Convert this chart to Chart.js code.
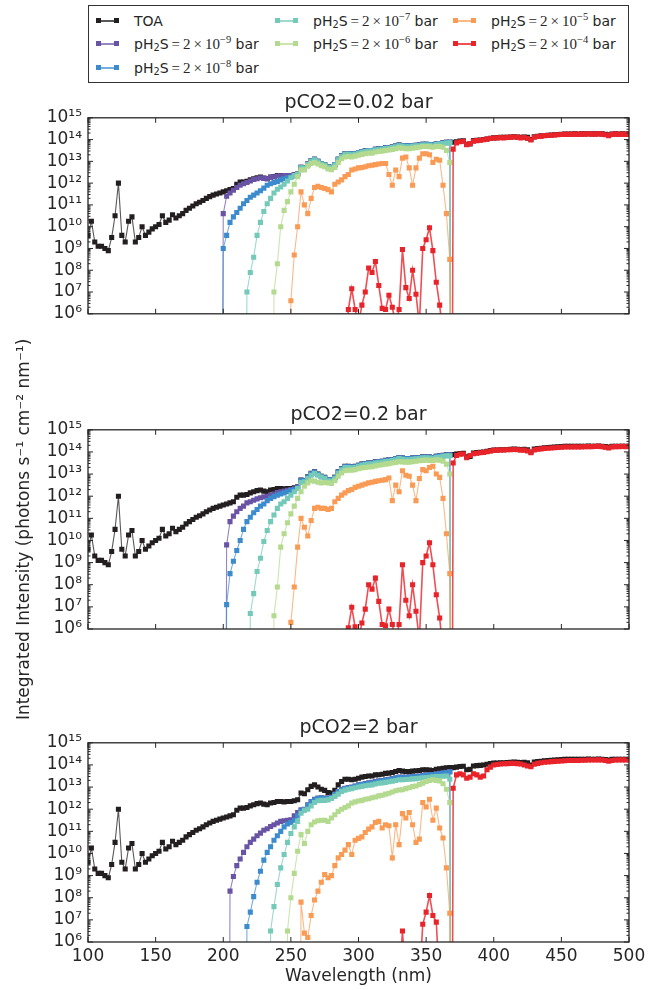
<!DOCTYPE html>
<html>
<head>
<meta charset="utf-8">
<title>Integrated intensity vs wavelength</title>
<script src="https://cdn.jsdelivr.net/npm/chart.js@4.4.1/dist/chart.umd.min.js"></script>
<style>
  body { margin: 0; background: #fff; width: 655px; height: 990px; position: relative; overflow: hidden; font-family: "DejaVu Sans", sans-serif; }
  canvas { position: absolute; left: 0; }
  #legend { position: absolute; left: 88px; top: 5px; width: 541px; height: 78px; box-sizing: border-box; border: 1px solid #333; background: #fff; font-size: 14px; color: #262626; }
  .item { position: absolute; height: 20px; line-height: 20px; white-space: nowrap; }
  .swatch { position: absolute; left: 0; top: 9px; width: 23px; height: 2px; }
  .swatch::before, .swatch::after { content: ''; position: absolute; top: -2px; width: 5px; height: 5px; background: var(--c); }
  .swatch::before { left: 0; }
  .swatch::after { right: 0; }
  .label { position: absolute; left: 38px; top: 0; }
  .m { font-family: "Liberation Serif", serif; font-size: 15px; }
  sub, sup { font-size: 70%; line-height: 0; }
  sub { vertical-align: -0.25em; }
  sup { vertical-align: 0.55em; }
</style>
</head>
<body>
<div id="legend"></div>
<canvas id="c1" width="655" height="240" style="top:90px"></canvas>
<canvas id="c2" width="655" height="395" style="top:335px"></canvas>
<canvas id="c3" width="655" height="275" style="top:715px"></canvas>
<script>
// wavelength grid step (nm); every series starts at its own wavelength
const step = 2.5;

const titles = ['pCO2=0.02 bar', 'pCO2=0.2 bar', 'pCO2=2 bar'];
const h2sExponents = [-9, -8, -7, -6, -5, -4];
const seriesColors = ['#231f20', '#6853a4', '#3b8bcd', '#74c9b8', '#b3da8f', '#f99b55', '#e8232a'];
const lineColors = ['rgba(35,31,32,0.75)', 'rgba(104,83,164,0.7)', 'rgba(59,139,205,0.7)', 'rgba(116,201,184,0.7)',
  'rgba(179,218,143,0.7)', 'rgba(249,155,85,0.7)', 'rgba(232,35,42,0.8)'];
const yTicks = [1e6, 1e7, 1e8, 1e9, 1e10, 1e11, 1e12, 1e13, 1e14, 1e15];

// all intensities are log10(photons s-1 cm-2 nm-1); -30 or small numbers = below the plotted range
const toaStart = 100;
const toa = [
  9.6, 10.25, 9.3, 9.1, 9.1, 9.0, 8.9, 9.5, 10.5, 12.0,
  9.6, 9.3, 10.25, 10.45, 9.3, 9.5, 10.0, 9.6, 9.75, 9.9,
  10.0, 10.1, 10.5, 10.2, 10.3, 10.55, 10.4, 10.5, 10.6, 10.75,
  10.85, 10.95, 11.05, 11.12, 11.2, 11.3, 11.38, 11.45, 11.5, 11.55,
  11.6, 11.65, 11.7, 11.75, 11.95, 12.05, 12.05, 12.08, 12.15, 12.2,
  12.25, 12.28, 12.23, 12.2, 12.28, 12.3, 12.35, 12.35, 12.33, 12.35,
  12.35, 12.38, 12.43, 12.73, 12.7, 12.88, 13.03, 13.1, 13.0, 12.9,
  12.85, 12.75, 12.73, 12.85, 13.1, 13.25, 13.35, 13.35, 13.33, 13.35,
  13.4, 13.45, 13.48, 13.5, 13.5, 13.55, 13.56, 13.58, 13.62, 13.63,
  13.66, 13.7, 13.75, 13.72, 13.7, 13.7, 13.72, 13.74, 13.75, 13.78,
  13.78, 13.77, 13.75, 13.8, 13.82, 13.85, 13.87, 13.88, 13.88, 13.9,
  13.93, 13.94, 13.78, 13.8, 13.95, 13.97, 13.98, 14.0, 14.03, 14.06,
  14.08, 14.09, 14.1, 14.1, 14.11, 14.12, 14.13, 14.12, 14.11, 14.12,
  14.1, 14.0, 14.13, 14.15, 14.17, 14.19, 14.2, 14.21, 14.22, 14.23,
  14.24, 14.25, 14.25, 14.25, 14.26, 14.25, 14.26, 14.26, 14.27, 14.26,
  14.26, 14.27, 14.26, 14.24, 14.22, 14.25, 14.26, 14.25, 14.26, 14.25,
  14.26
];

// pCO2 = 0.02 bar
const lowStarts = [197.5, 197.5, 215, 235, 247.5, 287.5];
const lowS9 = [
  -30, 10.6, 11.4, 11.55, 11.67, 11.8, 11.9, 11.97, 12.03, 12.1,
  12.17, 12.2, 12.25, 12.22, 12.2, 12.27, 12.29, 12.33, 12.34, 12.33,
  12.35, 12.35, 12.38, 12.43, 12.73, 12.7, 12.88, 13.03, 13.1, 13.0,
  12.9, 12.85, 12.75, 12.73, 12.85, 13.1, 13.25, 13.35, 13.35, 13.33,
  13.35, 13.4, 13.45, 13.48, 13.5, 13.5, 13.55, 13.56, 13.58, 13.62,
  13.63, 13.66, 13.7, 13.75, 13.72, 13.7, 13.7, 13.72, 13.74, 13.75,
  13.78, 13.78, 13.77, 13.75, 13.8, 13.82, 13.85, 13.87, 13.88, -30
];
const lowS8 = [
  -30, 9.0, 9.6, 10.2, 10.45, 10.65, 10.85, 11.05, 11.2, 11.35,
  11.45, 11.55, 11.65, 11.77, 11.9, 11.97, 12.03, 12.08, 12.15, 12.2,
  12.25, 12.28, 12.33, 12.4, 12.72, 12.7, 12.87, 13.02, 13.09, 12.99,
  12.9, 12.84, 12.75, 12.72, 12.85, 13.09, 13.24, 13.34, 13.34, 13.33,
  13.34, 13.4, 13.44, 13.47, 13.5, 13.5, 13.54, 13.56, 13.58, 13.61,
  13.63, 13.65, 13.7, 13.74, 13.72, 13.7, 13.7, 13.72, 13.73, 13.75,
  13.77, 13.78, 13.77, 13.75, 13.8, 13.82, 13.84, 13.86, 13.87, -30
];
const lowS7 = [
  -30, 7.0, 7.9, 8.6, 9.6, 10.2, 10.7, 11.05, 11.3, 11.55,
  11.72, 11.82, 11.95, 12.1, 12.25, 12.35, 12.42, 12.7, 12.68, 12.85,
  13.0, 13.07, 12.98, 12.88, 12.83, 12.73, 12.7, 12.83, 13.07, 13.22,
  13.32, 13.32, 13.3, 13.32, 13.37, 13.42, 13.45, 13.47, 13.47, 13.52,
  13.53, 13.55, 13.59, 13.6, 13.63, 13.67, 13.72, 13.69, 13.67, 13.67,
  13.69, 13.71, 13.72, 13.75, 13.75, 13.74, 13.72, 13.77, 13.79, 13.82,
  13.84, 13.85, -30
];
const lowS6 = [
  -30, 7.0, 8.3, 10.0, 10.75, 11.15, 11.6, 11.95, 12.3, 12.6,
  12.6, 12.78, 12.9, 12.95, 12.88, 12.8, 12.75, 12.65, 12.62, 12.72,
  12.95, 13.12, 13.2, 13.22, 13.2, 13.24, 13.28, 13.32, 13.35, 13.37,
  13.38, 13.43, 13.45, 13.47, 13.5, 13.52, 13.55, 13.58, 13.62, 13.6,
  13.58, 13.58, 13.6, 13.63, 13.65, 13.68, 13.68, 13.67, 13.65, 13.68,
  13.68, 13.65, 13.5, 12.95, -30
];
const lowS5 = [
  -30, 6.6, 8.7, 10.0, 11.6, 11.0, 10.6, 11.3, 11.8, 11.85,
  11.8, 11.75, 11.7, 11.6, 11.95, 12.05, 12.15, 12.3, 12.4, 12.6,
  12.65, 12.7, 12.72, 12.75, 12.8, 12.82, 12.85, 12.88, 12.9, 12.9,
  12.4, 11.9, 12.6, 12.3, 13.15, 13.2, 12.7, 11.9, 12.7, 13.15,
  13.35, 13.35, 13.3, 12.95, 13.1, 13.05, 11.9, 10.6, 8.5, -30
];
const lowS4 = [
  3, 4, 6.2, 7.15, 6.2, 5.5, 6.4, 7.0, 8.1, 7.9,
  8.4, 7.3, 6.25, 6.2, 6.85, 6.3, 5.5, 6.2, 8.95, 7.2,
  6.7, 8.0, 6.9, 5.5, 9.0, 9.4, 9.95, 8.9, 7.45, 6.4,
  5, 4, -30, 13.56, 13.85, 13.9, 13.92, 13.76, 13.82, 13.93,
  13.95, 13.97, 13.99, 14.02, 14.05, 14.07, 14.08, 14.09, 14.08, 14.1,
  14.11, 14.12, 14.1, 14.08, 14.1, 14.05, 13.98, 14.11, 14.14, 14.16,
  14.18, 14.19, 14.2, 14.21, 14.22, 14.23, 14.24, 14.24, 14.24, 14.25,
  14.24, 14.25, 14.25, 14.26, 14.25, 14.25, 14.26, 14.25, 14.22, 14.18,
  14.24, 14.25, 14.24, 14.25, 14.24, 14.25
];

// pCO2 = 0.2 bar
const midStarts = [200, 200, 217.5, 235, 247.5, 287.5];
const midS9 = [
  -30, 9.8, 10.85, 11.1, 11.3, 11.45, 11.55, 11.7, 11.75, 11.82,
  11.88, 11.93, 11.97, 12.0, 12.05, 12.1, 12.16, 12.2, 12.23, 12.27,
  12.3, 12.34, 12.41, 12.72, 12.7, 12.87, 13.02, 13.09, 12.99, 12.9,
  12.84, 12.75, 12.72, 12.85, 13.09, 13.24, 13.34, 13.34, 13.33, 13.34,
  13.4, 13.44, 13.47, 13.5, 13.5, 13.54, 13.56, 13.58, 13.61, 13.63,
  13.65, 13.7, 13.74, 13.72, 13.7, 13.7, 13.72, 13.73, 13.75, 13.77,
  13.78, 13.77, 13.75, 13.8, 13.82, 13.84, 13.86, 13.87, -30
];
const midS8 = [
  -30, 7.1, 8.5, 9.06, 9.55, 10.0, 10.5, 10.85, 11.05, 11.25,
  11.4, 11.55, 11.65, 11.8, 11.9, 11.98, 12.05, 12.1, 12.15, 12.2,
  12.25, 12.3, 12.38, 12.71, 12.69, 12.86, 13.01, 13.08, 12.98, 12.89,
  12.83, 12.74, 12.71, 12.84, 13.08, 13.23, 13.33, 13.33, 13.32, 13.33,
  13.39, 13.43, 13.46, 13.49, 13.49, 13.53, 13.55, 13.57, 13.6, 13.62,
  13.64, 13.69, 13.73, 13.71, 13.69, 13.69, 13.71, 13.72, 13.74, 13.76,
  13.77, 13.76, 13.74, 13.79, 13.81, 13.83, 13.85, 13.86, -30
];
const midS7 = [
  -30, 6.7, 7.6, 8.6, 9.2, 9.95, 10.45, 10.85, 11.15, 11.45,
  11.65, 11.75, 11.9, 12.05, 12.2, 12.35, 12.62, 12.65, 12.8, 12.95,
  13.02, 12.95, 12.86, 12.8, 12.7, 12.68, 12.8, 13.04, 13.19, 13.29,
  13.3, 13.28, 13.3, 13.35, 13.4, 13.43, 13.45, 13.45, 13.5, 13.51,
  13.53, 13.57, 13.58, 13.61, 13.65, 13.7, 13.67, 13.65, 13.65, 13.67,
  13.69, 13.7, 13.73, 13.73, 13.72, 13.7, 13.75, 13.77, 13.8, 13.82,
  13.83, -30
];
const midS6 = [
  -30, 6.6, 7.9, 9.7, 10.3, 10.8, 11.2, 11.55, 11.9, 12.2,
  12.45, 12.6, 12.7, 12.68, 12.63, 12.6, 12.62, 12.6, 12.58, 12.7,
  12.9, 13.05, 13.15, 13.17, 13.17, 13.2, 13.24, 13.28, 13.3, 13.32,
  13.33, 13.37, 13.4, 13.42, 13.45, 13.47, 13.5, 13.53, 13.56, 13.55,
  13.54, 13.54, 13.56, 13.58, 13.6, 13.62, 13.63, 13.62, 13.62, 13.64,
  13.63, 13.58, 13.45, 13.0, -30
];
const midS5 = [
  -30, 6.3, 7.9, 9.7, 11.0, 10.6, 10.2, 10.9, 11.45, 11.5,
  11.45, 11.45, 11.4, 11.45, 11.75, 11.9, 12.05, 12.15, 12.25, 12.3,
  12.4, 12.45, 12.5, 12.55, 12.6, 12.63, 12.67, 12.7, 12.72, 12.75,
  12.82, 11.8, 12.5, 12.2, 13.15, 12.95, 12.9, 12.5, 11.8, 12.8,
  13.2, 13.15, 13.3, 13.35, 13.0, 12.85, 11.9, 10.3, 8.5, -30
];
const midS4 = [
  3, 4, 6.05, 6.98, 6.1, 5.5, 6.27, 6.9, 8.0, 7.8,
  8.3, 7.25, 6.2, 6.15, 6.9, 6.2, 5.5, 6.2, 8.9, 7.3,
  6.6, 8.0, 6.8, 5.5, 9.0, 9.3, 9.9, 8.9, 7.55, 6.5,
  5, 4, -30, 13.5, 13.84, 13.9, 13.91, 13.74, 13.84, 13.92,
  13.94, 13.96, 13.98, 14.01, 14.04, 14.07, 14.08, 14.09, 14.09, 14.1,
  14.1, 14.11, 14.1, 14.08, 14.08, 14.04, 13.97, 14.09, 14.12, 14.14,
  14.16, 14.17, 14.18, 14.19, 14.2, 14.21, 14.22, 14.22, 14.22, 14.23,
  14.22, 14.23, 14.24, 14.24, 14.24, 14.25, 14.25, 14.24, 14.21, 14.18,
  14.23, 14.24, 14.24, 14.25, 14.24, 14.25
];

// pCO2 = 2 bar
const highStarts = [202.5, 215, 232.5, 245, 255, 327.5];
const highS9 = [
  -30, 8.3, 8.96, 9.45, 9.75, 10.05, 10.3, 10.5, 10.65, 10.8,
  10.92, 11.05, 11.12, 11.22, 11.3, 11.38, 11.45, 11.48, 11.5, 11.52,
  11.7, 11.85, 11.97, 12.0, 12.2, 12.35, 12.45, 12.5, 12.52, 12.5,
  12.5, 12.55, 12.68, 12.8, 12.9, 12.95, 12.98, 13.0, 13.05, 13.1,
  13.13, 13.16, 13.19, 13.21, 13.25, 13.28, 13.3, 13.33, 13.35, 13.38,
  13.42, 13.45, 13.45, 13.45, 13.46, 13.48, 13.49, 13.5, 13.53, 13.55,
  13.56, 13.57, 13.6, 13.62, 13.64, 13.67, 13.7, -30
];
const highS8 = [
  -30, 6.7, 7.35, 8.05, 8.7, 9.2, 9.7, 10.05, 10.3, 10.6,
  10.8, 11.0, 11.2, 11.33, 11.4, 11.5, 11.7, 11.92, 11.97, 12.18,
  12.33, 12.43, 12.48, 12.5, 12.48, 12.48, 12.53, 12.66, 12.78, 12.88,
  12.93, 12.96, 12.98, 13.03, 13.08, 13.11, 13.14, 13.17, 13.19, 13.23,
  13.26, 13.28, 13.31, 13.33, 13.36, 13.4, 13.43, 13.43, 13.43, 13.44,
  13.46, 13.47, 13.48, 13.51, 13.53, 13.54, 13.55, 13.58, 13.6, 13.62,
  13.65, 13.68, -30
];
const highS7 = [
  -30, 6.5, 7.6, 8.6, 9.35, 9.95, 10.5, 10.9, 11.2, 11.45,
  11.82, 11.95, 12.0, 12.15, 12.3, 12.38, 12.4, 12.4, 12.42, 12.48,
  12.58, 12.68, 12.8, 12.86, 12.9, 12.93, 12.97, 13.0, 13.03, 13.06,
  13.08, 13.1, 13.14, 13.17, 13.19, 13.21, 13.24, 13.27, 13.3, 13.33,
  13.33, 13.34, 13.35, 13.37, 13.38, 13.4, 13.42, 13.43, 13.44, 13.46,
  13.47, 13.48, 13.49, 13.5, 13.35, -30
];
const highS6 = [
  -30, 6.5, 8.0, 9.1, 10.1, 10.85, 10.45, 11.0, 11.3, 11.42,
  11.48, 11.5, 11.5, 11.45, 11.6, 11.75, 11.9, 12.0, 12.08, 12.15,
  12.28, 12.33, 12.37, 12.4, 12.45, 12.47, 12.52, 12.55, 12.6, 12.63,
  12.68, 12.72, 12.78, 12.83, 12.87, 12.88, 12.93, 12.97, 13.02, 13.05,
  13.12, 13.18, 13.25, 13.3, 13.33, 13.3, 13.28, 13.15, 12.9, 12.3,
  -30
];
const highS5 = [
  -30, 7.8, 6.4, 6.2, 7.2, 7.9, 8.3, 8.7, 9.05, 8.9,
  9.0, 9.45, 9.8, 9.95, 10.15, 10.4, 9.95, 10.6, 10.68, 10.75,
  10.95, 11.1, 11.2, 11.4, 11.45, 11.15, 11.3, 11.25, 9.8, 11.3,
  10.4, 11.8, 11.6, 11.85, 11.3, 10.5, 10.65, 12.3, 12.1, 12.45,
  11.5, 12.05, 11.15, 10.7, 9.35, 7.3, -30
];
const highS4 = [
  3, 4, 6.5, 4, 3, 3, 3, 4, 6.8, 7.35,
  8.1, 7.2, 6.9, 4, 3, 3, -30, 12.95, 13.55, 13.6,
  13.55, 13.4, 13.45, 13.6, 13.55, 13.45, 13.5, 13.78, 13.9, 14.0,
  14.02, 14.04, 14.05, 14.06, 14.07, 14.07, 14.06, 14.04, 14.0, 13.95,
  13.92, 14.03, 14.07, 14.1, 14.12, 14.13, 14.15, 14.16, 14.17, 14.18,
  14.19, 14.2, 14.2, 14.2, 14.2, 14.21, 14.21, 14.22, 14.22, 14.22,
  14.23, 14.22, 14.2, 14.17, 14.2, 14.22, 14.22, 14.23, 14.22, 14.22
];

const ink = '#262626';
const fontFamily = '"DejaVu Sans", sans-serif';
const supDigits = { '0': '⁰', '1': '¹', '2': '²', '3': '³', '4': '⁴', '5': '⁵', '6': '⁶', '7': '⁷', '8': '⁸', '9': '⁹', '-': '⁻' };
const toSup = n => String(n).split('').map(c => supDigits[c]).join('');

const seriesLabels = ['TOA'].concat(h2sExponents.map(e => 'pH₂S = 2 × 10' + toSup(e) + ' bar'));

// legend (matplotlib style, 3 rows, column-major)
const legendSlots = [[7, 5], [7, 28], [7, 51.5], [186, 5], [186, 28], [364, 5], [364, 28]];
const legendEl = document.getElementById('legend');
seriesLabels.forEach((lab, k) => {
  const item = document.createElement('div');
  item.className = 'item';
  item.style.left = legendSlots[k][0] + 'px';
  item.style.top = legendSlots[k][1] + 'px';
  const text = k === 0 ? 'TOA'
    : 'pH<sub>2</sub>S<span class="m">\u2009=\u20092\u2009×\u200910<sup>−' + (-h2sExponents[k - 1]) + '</sup></span> bar';
  item.innerHTML = '<span class="swatch" style="background:' + lineColors[k] + ';--c:' + seriesColors[k] + '"></span>'
    + '<span class="label">' + text + '</span>';
  legendEl.appendChild(item);
});

function toPoints(start, logs) {
  return logs.map((v, i) => ({ x: start + i * step, y: Math.pow(10, v) }));
}

// axes frame with inward ticks on all four sides
const frame = {
  id: 'frame',
  afterDatasetsDraw(chart) {
    const { ctx, chartArea: a, scales: { x, y } } = chart;
    ctx.save();
    ctx.strokeStyle = ink;
    ctx.lineWidth = 1;
    ctx.beginPath();
    x.ticks.forEach(t => {
      const px = x.getPixelForValue(t.value);
      ctx.moveTo(px, a.bottom); ctx.lineTo(px, a.bottom - 5);
      ctx.moveTo(px, a.top); ctx.lineTo(px, a.top + 5);
    });
    yTicks.forEach((v, i) => {
      const py = y.getPixelForValue(v);
      ctx.moveTo(a.left, py); ctx.lineTo(a.left + 5, py);
      ctx.moveTo(a.right, py); ctx.lineTo(a.right - 5, py);
      if (i < yTicks.length - 1) {
        for (let m = 2; m < 10; m++) {
          const pm = y.getPixelForValue(v * m);
          ctx.moveTo(a.left, pm); ctx.lineTo(a.left + 2.5, pm);
          ctx.moveTo(a.right, pm); ctx.lineTo(a.right - 2.5, pm);
        }
      }
    });
    ctx.stroke();
    ctx.lineWidth = 1.3;
    ctx.strokeRect(a.left, a.top, a.right - a.left, a.bottom - a.top);
    ctx.restore();
  }
};

function makePanel(id, title, starts, series, padTop, padBottom, xHeight, showX, showYTitle) {
  const all = [toa].concat(series);
  const datasets = all.map((logs, k) => ({
    label: seriesLabels[k],
    data: toPoints(k === 0 ? toaStart : starts[k - 1], logs),
    borderColor: lineColors[k],
    backgroundColor: seriesColors[k],
    pointBackgroundColor: seriesColors[k],
    pointBorderWidth: 0,
    pointStyle: 'rect',
    pointRadius: 3.6,
    borderWidth: k === 6 ? 1.6 : 1.1,
    order: 6 - k
  }));

  new Chart(document.getElementById(id), {
    type: 'line',
    data: { datasets },
    options: {
      responsive: false,
      animation: false,
      devicePixelRatio: 1,
      events: [],
      layout: { padding: { left: 0, right: 26, top: padTop, bottom: padBottom } },
      plugins: {
        legend: { display: false },
        tooltip: { enabled: false },
        title: {
          display: true, text: title, fullSize: false, color: ink,
          font: { family: fontFamily, size: 19, weight: 'normal' },
          padding: { top: 2, bottom: 3 }
        }
      },
      scales: {
        x: {
          type: 'linear', min: 100, max: 500,
          ticks: { stepSize: 50, display: showX, autoSkip: false, maxRotation: 0, padding: 4, color: ink,
            font: { family: fontFamily, size: 17 } },
          grid: { display: false, drawTicks: false },
          border: { display: false },
          title: { display: showX, text: 'Wavelength (nm)', color: ink,
            font: { family: fontFamily, size: 17 }, padding: { top: 0, bottom: 3 } },
          afterFit: s => { s.height = xHeight; }
        },
        y: {
          type: 'logarithmic', min: 1e6, max: 1e15,
          afterBuildTicks: s => { s.ticks = yTicks.map(v => ({ value: v })); },
          ticks: { autoSkip: false, padding: 6, color: ink, font: { family: fontFamily, size: 17 },
            callback: v => '10' + toSup(Math.round(Math.log10(v))) },
          grid: { display: false, drawTicks: false },
          border: { display: false },
          title: { display: showYTitle, text: 'Integrated Intensity (photons s⁻¹ cm⁻² nm⁻¹)', color: ink,
            font: { family: fontFamily, size: 17 }, padding: { top: 14, bottom: 0 } },
          afterFit: s => { s.width = 88; }
        }
      }
    },
    plugins: [frame]
  });
}

makePanel('c1', titles[0], lowStarts, [lowS9, lowS8, lowS7, lowS6, lowS5, lowS4], 0, 0, 13, false, false);
makePanel('c2', titles[1], midStarts, [midS9, midS8, midS7, midS6, midS5, midS4], 67, 88, 13, false, true);
makePanel('c3', titles[2], highStarts, [highS9, highS8, highS7, highS6, highS5, highS4], 0, 0, 48, true, false);
</script>
</body>
</html>
